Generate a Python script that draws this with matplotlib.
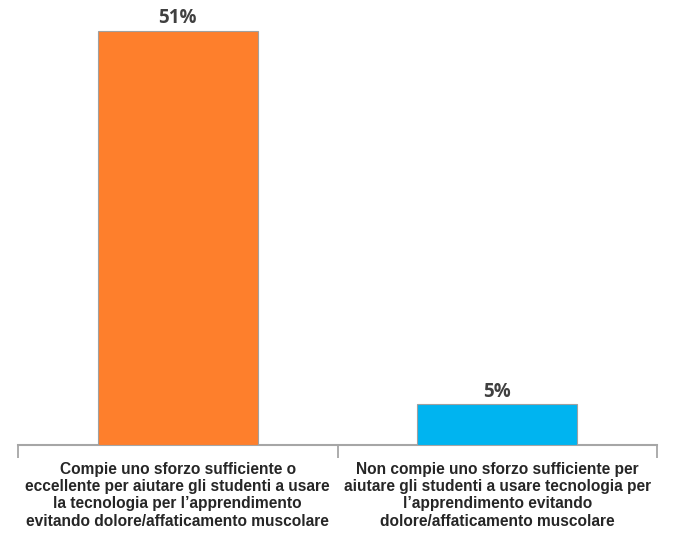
import matplotlib
matplotlib.use("Agg")
import matplotlib.pyplot as plt
import numpy as np

categories = [
    "Compie uno sforzo sufficiente o\neccellente per aiutare gli studenti a usare\nla tecnologia per l\u2019apprendimento\nevitando dolore/affaticamento muscolare",
    "Non compie uno sforzo sufficiente per\naiutare gli studenti a usare tecnologia per\nl\u2019apprendimento evitando\ndolore/affaticamento muscolare",
]
values = [51, 5]
value_labels = ["51%", "5%"]
colors = ["#FE7F2C", "#00B4F0"]

AXIS_COL = "#A6A6A6"

fig = plt.figure(figsize=(6.74, 5.34), dpi=100)
ax = fig.add_axes([18 / 674, 89 / 534, 639 / 674, 435 / 534])

x = np.arange(len(values))
bars = ax.bar(x, values, width=0.5, color=colors, edgecolor="#A0A0A0", linewidth=0.8, zorder=3)

for b, lbl in zip(bars, value_labels):
    ax.annotate(lbl, xy=(b.get_x() + b.get_width() / 2, b.get_height()),
                xytext=(0, 2), textcoords="offset points", ha="center", va="bottom",
                fontsize=13.5, fontweight="bold", color="#404040", family="Open Sans")

ax.set_xlim(-0.5, 1.5)
ax.set_ylim(0, 53.6)

ax.set_xticks(x)
ax.set_xticklabels(categories, fontsize=11.2, fontweight="bold", color="#262626",
                   family="Liberation Sans", linespacing=1.2)
ax.tick_params(axis="x", which="major", length=0, pad=12)
ax.set_xticks([-0.5, 0.5, 1.5], minor=True)
ax.tick_params(axis="x", which="minor", length=9.5, width=1.3, color=AXIS_COL)
ax.set_yticks([])

for s in ["top", "right", "left"]:
    ax.spines[s].set_visible(False)
ax.spines["bottom"].set_color(AXIS_COL)
ax.spines["bottom"].set_linewidth(1.5)

fig.savefig("out.png", dpi=100, facecolor="white")
